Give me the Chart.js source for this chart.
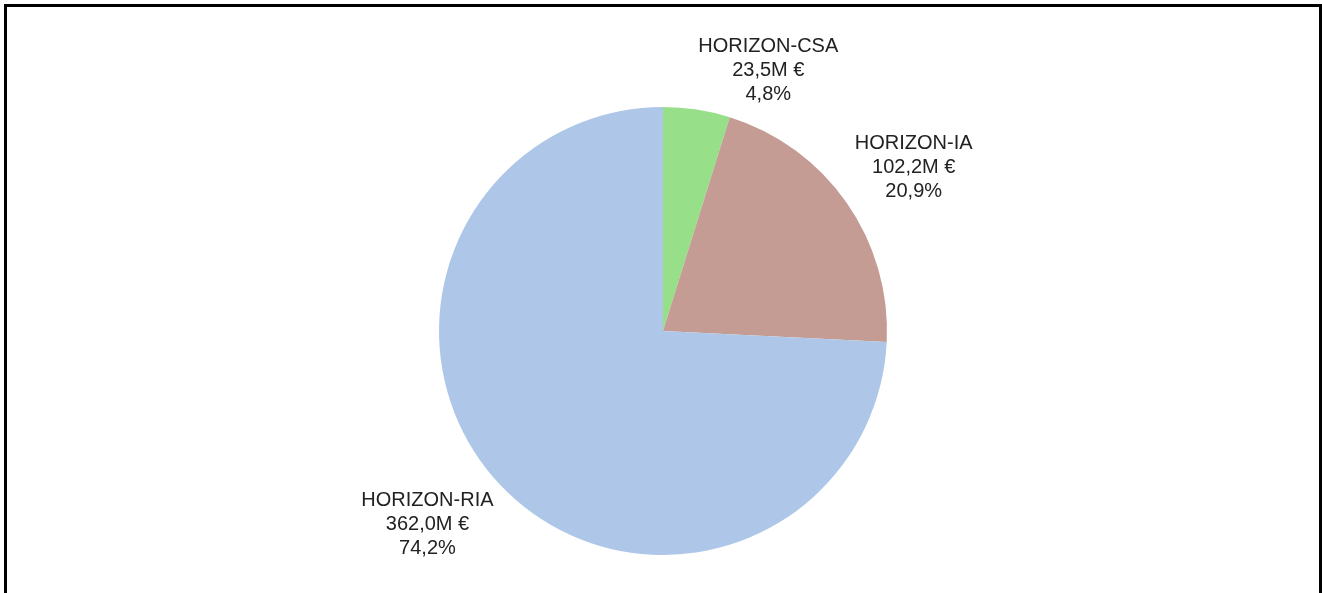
<!DOCTYPE html>
<html>
<head>
<meta charset="utf-8">
<script src="https://cdn.jsdelivr.net/npm/chart.js@4/dist/chart.umd.min.js"></script>
<style>
  html, body { margin: 0; padding: 0; background: #fff; overflow: hidden; }
  #frame { position: absolute; left: 4px; top: 4px; width: 1312px; height: 620px; border: 3px solid #000; }
  #c { position: absolute; left: 0; top: 0; }
</style>
</head>
<body>
<div id="frame"></div>
<canvas id="c" width="1322" height="593"></canvas>
<script>
const categories = ["HORIZON-CSA", "HORIZON-IA", "HORIZON-RIA"];
const values = [23.5, 102.2, 362.0];
const amountLabels = ["23,5M €", "102,2M €", "362,0M €"];
const percentLabels = ["4,8%", "20,9%", "74,2%"];
const colors = ["#98df8a", "#c49c94", "#aec7e8"];

const outsideLabels = {
  id: 'outsideLabels',
  afterDatasetsDraw(chart) {
    const ctx = chart.ctx;
    const meta = chart.getDatasetMeta(0);
    ctx.save();
    ctx.font = '20px "Liberation Sans", Arial, sans-serif';
    ctx.fillStyle = '#222222';
    ctx.textAlign = 'center';
    ctx.textBaseline = 'alphabetic';
    const lh = 24, cap = 14, gap = 10;
    meta.data.forEach((arc, i) => {
      const lines = [categories[i], amountLabels[i], percentLabels[i]];
      const w = Math.max(...lines.map(l => ctx.measureText(l).width));
      const mid = (arc.startAngle + arc.endAngle) / 2;
      const r = arc.outerRadius + gap;
      const px = arc.x + Math.cos(mid) * r;
      const py = arc.y + Math.sin(mid) * r;
      const cx = Math.cos(mid) >= 0 ? px + w / 2 : px - w / 2;
      let b1;
      if (Math.sin(mid) < 0) {
        b1 = py - lh * (lines.length - 1);
      } else {
        b1 = py + cap;
      }
      lines.forEach((l, k) => ctx.fillText(l, cx, b1 + k * lh));
    });
    ctx.restore();
  }
};

new Chart(document.getElementById('c'), {
  type: 'pie',
  data: {
    labels: categories,
    datasets: [{
      data: values,
      backgroundColor: colors,
      borderWidth: 0,
      hoverOffset: 0
    }]
  },
  options: {
    responsive: false,
    animation: false,
    layout: { padding: { top: 107, bottom: 38, left: 300, right: 296 } },
    plugins: {
      legend: { display: false },
      tooltip: { enabled: false }
    }
  },
  plugins: [outsideLabels]
});
</script>
</body>
</html>
